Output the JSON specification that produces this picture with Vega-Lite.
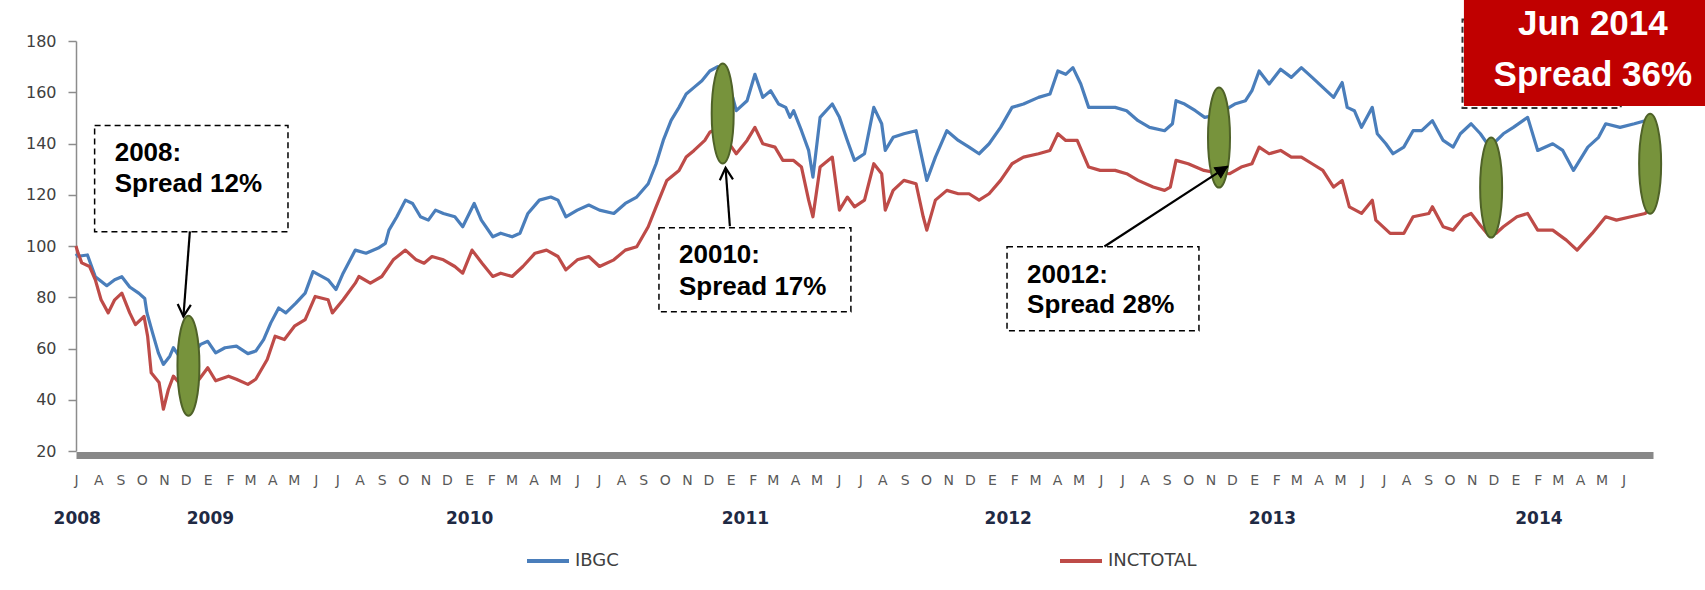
{
  "$schema": "https://vega.github.io/schema/vega-lite/v6.json",
  "width": 1577,
  "height": 410,
  "autosize": {"type": "none"},
  "padding": {"left": 76, "top": 41, "right": 52, "bottom": 139},
  "background": "white",
  "config": {"view": {"stroke": null}},
  "datasets": {
    "series": [
      {"d":"2008-07-01","s":"IBGC","v":97},{"d":"2008-07-04","s":"IBGC","v":96},{"d":"2008-07-17","s":"IBGC","v":96.5},{"d":"2008-07-28","s":"IBGC","v":88},{"d":"2008-08-13","s":"IBGC","v":84.5},{"d":"2008-08-24","s":"IBGC","v":86.8},{"d":"2008-09-03","s":"IBGC","v":88},{"d":"2008-09-14","s":"IBGC","v":84},{"d":"2008-09-27","s":"IBGC","v":81.5},{"d":"2008-10-05","s":"IBGC","v":79.5},{"d":"2008-10-08","s":"IBGC","v":74},{"d":"2008-10-16","s":"IBGC","v":66},{"d":"2008-10-24","s":"IBGC","v":58.3},{"d":"2008-10-31","s":"IBGC","v":53.8},{"d":"2008-11-09","s":"IBGC","v":57},{"d":"2008-11-14","s":"IBGC","v":60.3},{"d":"2008-11-22","s":"IBGC","v":57},{"d":"2008-12-01","s":"IBGC","v":59},{"d":"2008-12-11","s":"IBGC","v":58},{"d":"2008-12-22","s":"IBGC","v":61.6},
      {"d":"2009-01-01","s":"IBGC","v":62.8},{"d":"2009-01-12","s":"IBGC","v":58.3},{"d":"2009-01-25","s":"IBGC","v":60.3},{"d":"2009-02-10","s":"IBGC","v":60.9},{"d":"2009-02-26","s":"IBGC","v":58},{"d":"2009-03-09","s":"IBGC","v":59},{"d":"2009-03-20","s":"IBGC","v":63.5},{"d":"2009-03-30","s":"IBGC","v":70},{"d":"2009-04-10","s":"IBGC","v":75.8},{"d":"2009-04-20","s":"IBGC","v":73.9},{"d":"2009-05-04","s":"IBGC","v":77.7},{"d":"2009-05-17","s":"IBGC","v":81.6},{"d":"2009-05-28","s":"IBGC","v":90},{"d":"2009-06-18","s":"IBGC","v":86.8},{"d":"2009-06-29","s":"IBGC","v":83},{"d":"2009-07-09","s":"IBGC","v":89.4},{"d":"2009-07-26","s":"IBGC","v":98.4},{"d":"2009-08-10","s":"IBGC","v":97.2},{"d":"2009-08-27","s":"IBGC","v":99.2},{"d":"2009-09-06","s":"IBGC","v":101},{"d":"2009-09-11","s":"IBGC","v":106.2},{"d":"2009-09-22","s":"IBGC","v":111.4},{"d":"2009-10-04","s":"IBGC","v":117.9},{"d":"2009-10-14","s":"IBGC","v":116.6},{"d":"2009-10-25","s":"IBGC","v":111.4},{"d":"2009-11-05","s":"IBGC","v":110.1},{"d":"2009-11-15","s":"IBGC","v":114},{"d":"2009-11-26","s":"IBGC","v":112.7},{"d":"2009-12-12","s":"IBGC","v":111.4},{"d":"2009-12-23","s":"IBGC","v":107.5},
      {"d":"2010-01-08","s":"IBGC","v":116.6},{"d":"2010-01-18","s":"IBGC","v":110.1},{"d":"2010-02-03","s":"IBGC","v":103.6},{"d":"2010-02-14","s":"IBGC","v":105},{"d":"2010-03-02","s":"IBGC","v":103.6},{"d":"2010-03-13","s":"IBGC","v":105},{"d":"2010-03-24","s":"IBGC","v":112.7},{"d":"2010-04-09","s":"IBGC","v":117.9},{"d":"2010-04-25","s":"IBGC","v":119.1},{"d":"2010-05-05","s":"IBGC","v":117.9},{"d":"2010-05-16","s":"IBGC","v":111.4},{"d":"2010-06-01","s":"IBGC","v":114},{"d":"2010-06-17","s":"IBGC","v":116},{"d":"2010-07-02","s":"IBGC","v":114},{"d":"2010-07-22","s":"IBGC","v":112.7},{"d":"2010-08-07","s":"IBGC","v":116.6},{"d":"2010-08-23","s":"IBGC","v":119.1},{"d":"2010-09-08","s":"IBGC","v":124.3},{"d":"2010-09-19","s":"IBGC","v":132.1},{"d":"2010-09-29","s":"IBGC","v":141.2},{"d":"2010-10-10","s":"IBGC","v":149},{"d":"2010-10-21","s":"IBGC","v":154.1},{"d":"2010-10-31","s":"IBGC","v":159.3},{"d":"2010-11-11","s":"IBGC","v":161.9},{"d":"2010-11-22","s":"IBGC","v":164.5},{"d":"2010-12-03","s":"IBGC","v":168.3},{"d":"2010-12-14","s":"IBGC","v":170},{"d":"2010-12-25","s":"IBGC","v":162},
      {"d":"2011-01-04","s":"IBGC","v":158},{"d":"2011-01-09","s":"IBGC","v":152.8},{"d":"2011-01-24","s":"IBGC","v":156.7},{"d":"2011-02-04","s":"IBGC","v":167},{"d":"2011-02-15","s":"IBGC","v":158},{"d":"2011-02-26","s":"IBGC","v":160.6},{"d":"2011-03-09","s":"IBGC","v":155.4},{"d":"2011-03-19","s":"IBGC","v":154.1},{"d":"2011-03-25","s":"IBGC","v":150.2},{"d":"2011-03-30","s":"IBGC","v":152.8},{"d":"2011-04-10","s":"IBGC","v":145},{"d":"2011-04-20","s":"IBGC","v":137.3},{"d":"2011-04-26","s":"IBGC","v":126.9},{"d":"2011-05-06","s":"IBGC","v":150.2},{"d":"2011-05-23","s":"IBGC","v":155.4},{"d":"2011-06-02","s":"IBGC","v":150.2},{"d":"2011-06-13","s":"IBGC","v":141.2},{"d":"2011-06-23","s":"IBGC","v":133.4},{"d":"2011-07-07","s":"IBGC","v":136},{"d":"2011-07-20","s":"IBGC","v":154.1},{"d":"2011-07-31","s":"IBGC","v":147.7},{"d":"2011-08-05","s":"IBGC","v":137.3},{"d":"2011-08-16","s":"IBGC","v":142.4},{"d":"2011-08-31","s":"IBGC","v":143.8},{"d":"2011-09-17","s":"IBGC","v":145},{"d":"2011-09-27","s":"IBGC","v":132.1},{"d":"2011-10-02","s":"IBGC","v":125.6},{"d":"2011-10-14","s":"IBGC","v":134.7},{"d":"2011-10-30","s":"IBGC","v":145},{"d":"2011-11-15","s":"IBGC","v":141.2},{"d":"2011-11-30","s":"IBGC","v":138.6},{"d":"2011-12-14","s":"IBGC","v":136},{"d":"2011-12-28","s":"IBGC","v":139.9},
      {"d":"2012-01-13","s":"IBGC","v":146.3},{"d":"2012-01-29","s":"IBGC","v":154.1},{"d":"2012-02-14","s":"IBGC","v":155.4},{"d":"2012-03-06","s":"IBGC","v":158},{"d":"2012-03-22","s":"IBGC","v":159.3},{"d":"2012-04-02","s":"IBGC","v":168.3},{"d":"2012-04-13","s":"IBGC","v":167},{"d":"2012-04-23","s":"IBGC","v":169.6},{"d":"2012-05-04","s":"IBGC","v":163.2},{"d":"2012-05-15","s":"IBGC","v":154.1},{"d":"2012-05-31","s":"IBGC","v":154.1},{"d":"2012-06-21","s":"IBGC","v":154.1},{"d":"2012-07-07","s":"IBGC","v":152.8},{"d":"2012-07-23","s":"IBGC","v":148.9},{"d":"2012-08-08","s":"IBGC","v":146.3},{"d":"2012-08-29","s":"IBGC","v":145},{"d":"2012-09-09","s":"IBGC","v":147.7},{"d":"2012-09-14","s":"IBGC","v":156.7},{"d":"2012-09-26","s":"IBGC","v":155.4},{"d":"2012-10-11","s":"IBGC","v":152.8},{"d":"2012-10-24","s":"IBGC","v":150.2},{"d":"2012-11-07","s":"IBGC","v":151},{"d":"2012-11-21","s":"IBGC","v":153},{"d":"2012-12-05","s":"IBGC","v":155.4},{"d":"2012-12-20","s":"IBGC","v":156.7},{"d":"2012-12-29","s":"IBGC","v":160.6},
      {"d":"2013-01-08","s":"IBGC","v":168.3},{"d":"2013-01-22","s":"IBGC","v":163.2},{"d":"2013-02-07","s":"IBGC","v":169},{"d":"2013-02-22","s":"IBGC","v":165.8},{"d":"2013-03-08","s":"IBGC","v":169.6},{"d":"2013-03-23","s":"IBGC","v":165.8},{"d":"2013-04-07","s":"IBGC","v":161.9},{"d":"2013-04-22","s":"IBGC","v":158},{"d":"2013-05-04","s":"IBGC","v":163.8},{"d":"2013-05-11","s":"IBGC","v":154.1},{"d":"2013-05-21","s":"IBGC","v":152.8},{"d":"2013-05-31","s":"IBGC","v":146.3},{"d":"2013-06-15","s":"IBGC","v":154.1},{"d":"2013-06-22","s":"IBGC","v":143.8},{"d":"2013-07-04","s":"IBGC","v":139.9},{"d":"2013-07-14","s":"IBGC","v":136},{"d":"2013-07-29","s":"IBGC","v":138.6},{"d":"2013-08-11","s":"IBGC","v":145},{"d":"2013-08-23","s":"IBGC","v":145},{"d":"2013-09-07","s":"IBGC","v":148.9},{"d":"2013-09-22","s":"IBGC","v":141.2},{"d":"2013-10-06","s":"IBGC","v":138.6},{"d":"2013-10-16","s":"IBGC","v":143.8},{"d":"2013-10-31","s":"IBGC","v":147.7},{"d":"2013-11-13","s":"IBGC","v":143.8},{"d":"2013-11-25","s":"IBGC","v":139},{"d":"2013-12-05","s":"IBGC","v":141},{"d":"2013-12-15","s":"IBGC","v":143.8},{"d":"2013-12-29","s":"IBGC","v":146.3},
      {"d":"2014-01-18","s":"IBGC","v":150.2},{"d":"2014-02-01","s":"IBGC","v":137.3},{"d":"2014-02-22","s":"IBGC","v":139.9},{"d":"2014-03-08","s":"IBGC","v":137.3},{"d":"2014-03-23","s":"IBGC","v":129.5},{"d":"2014-04-12","s":"IBGC","v":138.6},{"d":"2014-04-27","s":"IBGC","v":142.4},{"d":"2014-05-07","s":"IBGC","v":147.7},{"d":"2014-05-27","s":"IBGC","v":146.3},{"d":"2014-06-16","s":"IBGC","v":147.7},{"d":"2014-07-01","s":"IBGC","v":148.9},{"d":"2014-07-09","s":"IBGC","v":151.5},
      {"d":"2008-07-01","s":"INCTOTAL","v":100},{"d":"2008-07-03","s":"INCTOTAL","v":98},{"d":"2008-07-09","s":"INCTOTAL","v":93.4},{"d":"2008-07-20","s":"INCTOTAL","v":92},{"d":"2008-07-28","s":"INCTOTAL","v":86.8},{"d":"2008-08-05","s":"INCTOTAL","v":79},{"d":"2008-08-15","s":"INCTOTAL","v":73.9},{"d":"2008-08-24","s":"INCTOTAL","v":79},{"d":"2008-09-03","s":"INCTOTAL","v":81.6},{"d":"2008-09-14","s":"INCTOTAL","v":73.9},{"d":"2008-09-22","s":"INCTOTAL","v":69.3},{"d":"2008-10-04","s":"INCTOTAL","v":72.5},{"d":"2008-10-09","s":"INCTOTAL","v":64.8},{"d":"2008-10-14","s":"INCTOTAL","v":50.5},{"d":"2008-10-25","s":"INCTOTAL","v":46.7},{"d":"2008-10-31","s":"INCTOTAL","v":36.3},{"d":"2008-11-07","s":"INCTOTAL","v":44},{"d":"2008-11-14","s":"INCTOTAL","v":49.2},{"d":"2008-11-24","s":"INCTOTAL","v":46},{"d":"2008-12-04","s":"INCTOTAL","v":48},{"d":"2008-12-12","s":"INCTOTAL","v":47},{"d":"2008-12-20","s":"INCTOTAL","v":48},
      {"d":"2009-01-01","s":"INCTOTAL","v":52.5},{"d":"2009-01-12","s":"INCTOTAL","v":47.4},{"d":"2009-01-30","s":"INCTOTAL","v":49.2},{"d":"2009-02-10","s":"INCTOTAL","v":48},{"d":"2009-02-26","s":"INCTOTAL","v":46},{"d":"2009-03-09","s":"INCTOTAL","v":48},{"d":"2009-03-25","s":"INCTOTAL","v":55.7},{"d":"2009-04-05","s":"INCTOTAL","v":64.8},{"d":"2009-04-18","s":"INCTOTAL","v":63.5},{"d":"2009-05-02","s":"INCTOTAL","v":68.7},{"d":"2009-05-17","s":"INCTOTAL","v":71.3},{"d":"2009-05-31","s":"INCTOTAL","v":80.3},{"d":"2009-06-18","s":"INCTOTAL","v":79},{"d":"2009-06-24","s":"INCTOTAL","v":73.9},{"d":"2009-07-09","s":"INCTOTAL","v":79},{"d":"2009-07-26","s":"INCTOTAL","v":85.5},{"d":"2009-07-31","s":"INCTOTAL","v":88.1},{"d":"2009-08-16","s":"INCTOTAL","v":85.5},{"d":"2009-09-01","s":"INCTOTAL","v":88.1},{"d":"2009-09-17","s":"INCTOTAL","v":94.6},{"d":"2009-10-04","s":"INCTOTAL","v":98.4},{"d":"2009-10-19","s":"INCTOTAL","v":94.6},{"d":"2009-10-30","s":"INCTOTAL","v":93.3},{"d":"2009-11-10","s":"INCTOTAL","v":95.9},{"d":"2009-11-26","s":"INCTOTAL","v":94.6},{"d":"2009-12-12","s":"INCTOTAL","v":92},{"d":"2009-12-23","s":"INCTOTAL","v":89.4},
      {"d":"2010-01-05","s":"INCTOTAL","v":98.4},{"d":"2010-01-19","s":"INCTOTAL","v":93.3},{"d":"2010-02-03","s":"INCTOTAL","v":88.1},{"d":"2010-02-14","s":"INCTOTAL","v":89.4},{"d":"2010-03-02","s":"INCTOTAL","v":88.1},{"d":"2010-03-17","s":"INCTOTAL","v":92},{"d":"2010-04-03","s":"INCTOTAL","v":97.2},{"d":"2010-04-19","s":"INCTOTAL","v":98.4},{"d":"2010-05-05","s":"INCTOTAL","v":95.9},{"d":"2010-05-16","s":"INCTOTAL","v":90.7},{"d":"2010-06-01","s":"INCTOTAL","v":94.6},{"d":"2010-06-17","s":"INCTOTAL","v":95.9},{"d":"2010-07-02","s":"INCTOTAL","v":92},{"d":"2010-07-22","s":"INCTOTAL","v":94.6},{"d":"2010-08-07","s":"INCTOTAL","v":98.4},{"d":"2010-08-23","s":"INCTOTAL","v":99.7},{"d":"2010-09-08","s":"INCTOTAL","v":107.5},{"d":"2010-09-19","s":"INCTOTAL","v":115.3},{"d":"2010-10-04","s":"INCTOTAL","v":125.6},{"d":"2010-10-21","s":"INCTOTAL","v":129.5},{"d":"2010-10-31","s":"INCTOTAL","v":134.7},{"d":"2010-11-11","s":"INCTOTAL","v":137.3},{"d":"2010-11-26","s":"INCTOTAL","v":141.2},{"d":"2010-12-03","s":"INCTOTAL","v":144.4},{"d":"2010-12-14","s":"INCTOTAL","v":146},{"d":"2010-12-25","s":"INCTOTAL","v":142},
      {"d":"2011-01-04","s":"INCTOTAL","v":138},{"d":"2011-01-09","s":"INCTOTAL","v":136},{"d":"2011-01-24","s":"INCTOTAL","v":141.2},{"d":"2011-02-04","s":"INCTOTAL","v":146.3},{"d":"2011-02-15","s":"INCTOTAL","v":139.9},{"d":"2011-03-04","s":"INCTOTAL","v":138.6},{"d":"2011-03-15","s":"INCTOTAL","v":133.4},{"d":"2011-03-30","s":"INCTOTAL","v":133.4},{"d":"2011-04-10","s":"INCTOTAL","v":130.8},{"d":"2011-04-20","s":"INCTOTAL","v":117.9},{"d":"2011-04-26","s":"INCTOTAL","v":111.4},{"d":"2011-05-06","s":"INCTOTAL","v":130.8},{"d":"2011-05-23","s":"INCTOTAL","v":134.7},{"d":"2011-06-02","s":"INCTOTAL","v":114},{"d":"2011-06-13","s":"INCTOTAL","v":119.1},{"d":"2011-06-23","s":"INCTOTAL","v":115.3},{"d":"2011-07-07","s":"INCTOTAL","v":117.9},{"d":"2011-07-20","s":"INCTOTAL","v":132.1},{"d":"2011-07-31","s":"INCTOTAL","v":128.2},{"d":"2011-08-05","s":"INCTOTAL","v":114},{"d":"2011-08-16","s":"INCTOTAL","v":121.7},{"d":"2011-08-31","s":"INCTOTAL","v":125.6},{"d":"2011-09-17","s":"INCTOTAL","v":124.3},{"d":"2011-09-27","s":"INCTOTAL","v":111.4},{"d":"2011-10-02","s":"INCTOTAL","v":106.2},{"d":"2011-10-14","s":"INCTOTAL","v":117.9},{"d":"2011-10-30","s":"INCTOTAL","v":121.7},{"d":"2011-11-15","s":"INCTOTAL","v":120.4},{"d":"2011-11-30","s":"INCTOTAL","v":120.4},{"d":"2011-12-14","s":"INCTOTAL","v":117.9},{"d":"2011-12-28","s":"INCTOTAL","v":120.4},
      {"d":"2012-01-13","s":"INCTOTAL","v":125.6},{"d":"2012-01-29","s":"INCTOTAL","v":132.1},{"d":"2012-02-14","s":"INCTOTAL","v":134.7},{"d":"2012-03-06","s":"INCTOTAL","v":136},{"d":"2012-03-22","s":"INCTOTAL","v":137.3},{"d":"2012-04-02","s":"INCTOTAL","v":143.8},{"d":"2012-04-13","s":"INCTOTAL","v":141.2},{"d":"2012-04-29","s":"INCTOTAL","v":141.2},{"d":"2012-05-15","s":"INCTOTAL","v":130.8},{"d":"2012-05-31","s":"INCTOTAL","v":129.5},{"d":"2012-06-21","s":"INCTOTAL","v":129.5},{"d":"2012-07-07","s":"INCTOTAL","v":128.2},{"d":"2012-07-23","s":"INCTOTAL","v":125.6},{"d":"2012-08-13","s":"INCTOTAL","v":123},{"d":"2012-08-29","s":"INCTOTAL","v":121.7},{"d":"2012-09-06","s":"INCTOTAL","v":123},{"d":"2012-09-14","s":"INCTOTAL","v":133.4},{"d":"2012-10-01","s":"INCTOTAL","v":132.1},{"d":"2012-10-23","s":"INCTOTAL","v":129.5},{"d":"2012-11-11","s":"INCTOTAL","v":128.5},{"d":"2012-11-28","s":"INCTOTAL","v":128.2},{"d":"2012-12-14","s":"INCTOTAL","v":130.8},{"d":"2012-12-29","s":"INCTOTAL","v":132.1},
      {"d":"2013-01-08","s":"INCTOTAL","v":138.6},{"d":"2013-01-22","s":"INCTOTAL","v":136},{"d":"2013-02-07","s":"INCTOTAL","v":137.3},{"d":"2013-02-22","s":"INCTOTAL","v":134.7},{"d":"2013-03-08","s":"INCTOTAL","v":134.7},{"d":"2013-03-23","s":"INCTOTAL","v":132.1},{"d":"2013-04-07","s":"INCTOTAL","v":129.5},{"d":"2013-04-22","s":"INCTOTAL","v":123},{"d":"2013-05-04","s":"INCTOTAL","v":125.6},{"d":"2013-05-14","s":"INCTOTAL","v":115.3},{"d":"2013-05-31","s":"INCTOTAL","v":112.7},{"d":"2013-06-15","s":"INCTOTAL","v":117.9},{"d":"2013-06-20","s":"INCTOTAL","v":110.1},{"d":"2013-07-10","s":"INCTOTAL","v":104.9},{"d":"2013-07-29","s":"INCTOTAL","v":104.9},{"d":"2013-08-11","s":"INCTOTAL","v":111.4},{"d":"2013-09-02","s":"INCTOTAL","v":112.7},{"d":"2013-09-07","s":"INCTOTAL","v":115.3},{"d":"2013-09-22","s":"INCTOTAL","v":107.5},{"d":"2013-10-06","s":"INCTOTAL","v":106.2},{"d":"2013-10-21","s":"INCTOTAL","v":111.4},{"d":"2013-10-31","s":"INCTOTAL","v":112.7},{"d":"2013-11-13","s":"INCTOTAL","v":108},{"d":"2013-11-25","s":"INCTOTAL","v":104},{"d":"2013-12-05","s":"INCTOTAL","v":105},{"d":"2013-12-15","s":"INCTOTAL","v":107.5},
      {"d":"2014-01-03","s":"INCTOTAL","v":111.4},{"d":"2014-01-18","s":"INCTOTAL","v":112.7},{"d":"2014-02-01","s":"INCTOTAL","v":106.2},{"d":"2014-02-22","s":"INCTOTAL","v":106.2},{"d":"2014-03-13","s":"INCTOTAL","v":102.3},{"d":"2014-03-28","s":"INCTOTAL","v":98.4},{"d":"2014-04-18","s":"INCTOTAL","v":104.9},{"d":"2014-05-07","s":"INCTOTAL","v":111.4},{"d":"2014-05-22","s":"INCTOTAL","v":110.1},{"d":"2014-06-11","s":"INCTOTAL","v":111.4},{"d":"2014-07-01","s":"INCTOTAL","v":112.7},{"d":"2014-07-11","s":"INCTOTAL","v":115.3}
    ],
    "ellipses": [
      {"d":"2008-12-05","v":53.3},{"d":"2010-12-21","v":151.7},{"d":"2012-11-13","v":142.3},{"d":"2013-11-28","v":122.8},{"d":"2014-07-08","v":132.1}
    ],
    "boxes": [
      {"d":"2008-07-27","d2":"2009-04-23","v":147,"v2":105.6},
      {"d":"2010-09-23","d2":"2011-06-18","v":107.1,"v2":74.3},
      {"d":"2012-01-22","d2":"2012-10-16","v":99.7,"v2":66.9}
    ],
    "boxtext": [
      {"d":"2008-08-24","v":133,"t":"2008:"},{"d":"2008-08-24","v":120.9,"t":"Spread 12%"},
      {"d":"2010-10-21","v":93.4,"t":"20010:"},{"d":"2010-10-21","v":81,"t":"Spread 17%"},
      {"d":"2012-02-19","v":85.5,"t":"20012:"},{"d":"2012-02-19","v":73.8,"t":"Spread 28%"}
    ],
    "arrows": [
      {"id":1,"d":"2008-12-07","v":105.7,"d2":"2008-11-28","v2":72.5},
      {"id":2,"d":"2010-12-31","v":107.7,"d2":"2010-12-25","v2":130.5},
      {"id":3,"d":"2012-06-06","v":99.8,"d2":"2012-11-25","v2":131.1}
    ],
    "callout": [
      {"d":"2013-10-21","d2":"2014-09-23","v":196.5,"v2":154.6}
    ],
    "calloutframe": [
      {"d":"2013-10-19","d2":"2014-05-28","v":188.4,"v2":153.9}
    ],
    "callouttext": [
      {"d":"2014-04-19","v":182.5,"t":"Jun 2014"},{"d":"2014-04-19","v":162.3,"t":"Spread 36%"}
    ]
  },
  "resolve": {"axis": {"x": "independent", "y": "independent"}},
  "layer": [
    {
      "data": {"name": "series"},
      "mark": {"type": "line", "strokeWidth": 3.2, "strokeJoin": "round"},
      "encoding": {
        "x": {
          "field": "d", "type": "temporal",
          "scale": {"domain": [{"year": 2008, "month": 7, "date": 1}, {"year": 2014, "month": 7, "date": 12}]},
          "axis": {
            "orient": "bottom", "offset": 4, "title": null, "grid": false,
            "tickCount": {"interval": "month", "step": 1},
            "labelExpr": "(year(datum.value) == 2014 && month(datum.value) >= 6) ? '' : ['E','F','M','A','M','J','J','A','S','O','N','D'][month(datum.value)]",
            "domainColor": "#888888", "domainWidth": 7,
            "ticks": false, "tickSize": 0,
            "labelFont": "DejaVu Sans", "labelFontSize": 14, "labelColor": "#595959",
            "labelPadding": 18, "labelOverlap": false, "labelFlush": false, "labelBound": false, "labelAlign": "center"
          }
        },
        "y": {
          "field": "v", "type": "quantitative",
          "scale": {"domain": [20, 180], "nice": false, "zero": false},
          "axis": {
            "orient": "left", "title": null, "grid": false,
            "values": [20, 40, 60, 80, 100, 120, 140, 160, 180],
            "tickSize": 8, "tickColor": "#8c8c8c", "tickWidth": 1.5,
            "domainColor": "#8c8c8c", "domainWidth": 1.5,
            "labelFont": "DejaVu Sans", "labelFontSize": 16, "labelColor": "#404040", "labelPadding": 12
          }
        },
        "color": {
          "field": "s", "type": "nominal",
          "scale": {"domain": ["IBGC", "INCTOTAL"], "range": ["#4A7EBB", "#BE4B48"]},
          "legend": {
            "title": null, "orient": "none", "legendX": 449, "legendY": 497,
            "direction": "horizontal", "symbolType": "stroke", "symbolSize": 1764, "symbolStrokeWidth": 4,
            "labelFont": "DejaVu Sans", "labelFontSize": 18, "labelColor": "#404040", "labelOffset": 4,
            "columnPadding": 433
          }
        }
      }
    },
    {
      "data": {"name": "ellipses"},
      "mark": {"type": "point", "shape": "M0,-1 A0.22,1 0 1,1 0,1 A0.22,1 0 1,1 0,-1 Z", "filled": true, "size": 10000, "fill": "#77933C", "stroke": "#4F6228", "strokeWidth": 2, "opacity": 1},
      "encoding": {
        "x": {
          "field": "d", "type": "temporal",
          "axis": {
            "orient": "bottom", "offset": 4, "title": null, "grid": false, "domain": false, "ticks": false, "tickSize": 0,
            "values": [
              {"year": 2008, "month": 7, "date": 2},
              {"year": 2009, "month": 1, "date": 4},
              {"year": 2010, "month": 1, "date": 1},
              {"year": 2011, "month": 1, "date": 21},
              {"year": 2012, "month": 1, "date": 23},
              {"year": 2013, "month": 1, "date": 26},
              {"year": 2014, "month": 2, "date": 2}
            ],
            "labelExpr": "'' + year(datum.value)",
            "labelFont": "DejaVu Sans", "labelFontWeight": "bold", "labelFontSize": 17, "labelColor": "#1F2A44",
            "labelPadding": 55, "labelOverlap": false, "labelFlush": false, "labelBound": false, "labelAlign": "center"
          }
        },
        "y": {"field": "v", "type": "quantitative", "axis": null}
      }
    },
    {
      "data": {"name": "boxes"},
      "mark": {"type": "rect", "fill": "white", "stroke": "black", "strokeDash": [6, 4], "strokeWidth": 1.5},
      "encoding": {
        "x": {"field": "d", "type": "temporal", "axis": null},
        "x2": {"field": "d2"},
        "y": {"field": "v", "type": "quantitative", "axis": null},
        "y2": {"field": "v2"}
      }
    },
    {
      "data": {"name": "boxtext"},
      "mark": {"type": "text", "align": "left", "baseline": "alphabetic", "font": "Liberation Sans", "fontWeight": "bold", "fontSize": 26, "color": "black"},
      "encoding": {
        "x": {"field": "d", "type": "temporal", "axis": null},
        "y": {"field": "v", "type": "quantitative", "axis": null},
        "text": {"field": "t"}
      }
    },
    {
      "data": {"name": "arrows"},
      "mark": {"type": "rule", "color": "black", "strokeWidth": 2.2},
      "encoding": {
        "x": {"field": "d", "type": "temporal", "axis": null},
        "x2": {"field": "d2"},
        "y": {"field": "v", "type": "quantitative", "axis": null},
        "y2": {"field": "v2"}
      }
    },
    {
      "data": {"name": "arrows"},
      "transform": [{"filter": "datum.id == 1"}],
      "mark": {"type": "point", "shape": "M-0.55,1 L0,0 L0.55,1", "filled": false, "size": 576, "stroke": "black", "strokeWidth": 2.2, "angle": 184, "opacity": 1},
      "encoding": {
        "x": {"field": "d2", "type": "temporal", "axis": null},
        "y": {"field": "v2", "type": "quantitative", "axis": null}
      }
    },
    {
      "data": {"name": "arrows"},
      "transform": [{"filter": "datum.id == 2"}],
      "mark": {"type": "point", "shape": "M-0.55,1 L0,0 L0.55,1", "filled": false, "size": 576, "stroke": "black", "strokeWidth": 2.2, "angle": 356, "opacity": 1},
      "encoding": {
        "x": {"field": "d2", "type": "temporal", "axis": null},
        "y": {"field": "v2", "type": "quantitative", "axis": null}
      }
    },
    {
      "data": {"name": "arrows"},
      "transform": [{"filter": "datum.id == 3"}],
      "mark": {"type": "point", "shape": "M-0.5,1 L0,0 L0.5,1 Z", "filled": true, "size": 576, "fill": "black", "stroke": "black", "strokeWidth": 1, "angle": 57, "opacity": 1},
      "encoding": {
        "x": {"field": "d2", "type": "temporal", "axis": null},
        "y": {"field": "v2", "type": "quantitative", "axis": null}
      }
    },
    {
      "data": {"name": "calloutframe"},
      "mark": {"type": "rect", "fill": null, "stroke": "#333333", "strokeDash": [6, 4], "strokeWidth": 2},
      "encoding": {
        "x": {"field": "d", "type": "temporal", "axis": null},
        "x2": {"field": "d2"},
        "y": {"field": "v", "type": "quantitative", "axis": null},
        "y2": {"field": "v2"}
      }
    },
    {
      "data": {"name": "callout"},
      "mark": {"type": "rect", "fill": "#C00000"},
      "encoding": {
        "x": {"field": "d", "type": "temporal", "axis": null},
        "x2": {"field": "d2"},
        "y": {"field": "v", "type": "quantitative", "axis": null},
        "y2": {"field": "v2"}
      }
    },
    {
      "data": {"name": "callouttext"},
      "mark": {"type": "text", "align": "center", "baseline": "alphabetic", "font": "Liberation Sans", "fontWeight": "bold", "fontSize": 35, "color": "white"},
      "encoding": {
        "x": {"field": "d", "type": "temporal", "axis": null},
        "y": {"field": "v", "type": "quantitative", "axis": null},
        "text": {"field": "t"}
      }
    }
  ]
}
